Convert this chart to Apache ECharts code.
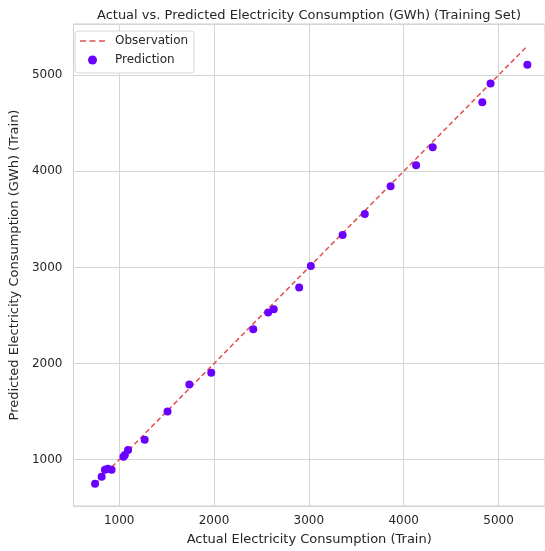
<!DOCTYPE html>
<html>
<head>
<meta charset="utf-8">
<script src="https://cdn.jsdelivr.net/npm/echarts@6/dist/echarts.min.js"></script>
<style>
  html, body { margin: 0; padding: 0; background: #fff; }
  #chart { width: 545px; height: 551px; }
</style>
</head>
<body>
<div id="chart"></div>
<script>
// actual vs predicted (GWh)
const actual    = [746, 815, 850, 880, 920, 1045, 1060, 1094, 1269, 1510, 1740, 1971, 2414, 2571, 2630, 2898, 3021, 3356, 3590, 3862, 4131, 4306, 4829, 4916, 5304]
const predicted = [750, 823, 895, 905, 895, 1030, 1049, 1100, 1208, 1500, 1781, 1903, 2357, 2531, 2564, 2792, 3014, 3336, 3555, 3844, 4063, 4250, 4719, 4914, 5107]
const lineEnds  = [746, 5304]
const axisMin = 518
const yMax = 5532
// the original plot runs a few px past the right edge of the image
const xMax = 5490

const textColor = '#262626'
const font = 'DejaVu Sans'
// dashed-line legend icon, 25x9 box (corner moveTo's keep the box size)
const dashIcon = 'path://M0,0 M0,3.75 L6,3.75 L6,5.25 L0,5.25 Z M9.5,3.75 L15.5,3.75 L15.5,5.25 L9.5,5.25 Z M19,3.75 L25,3.75 L25,5.25 L19,5.25 Z M25,9'

const chart = echarts.init(document.getElementById('chart'))

const points = actual.map((v, i) => [v, predicted[i]])

chart.setOption({
  animation: false,
  textStyle: { fontFamily: font },
  title: {
    text: 'Actual vs. Predicted Electricity Consumption (GWh) (Training Set)',
    left: 304,
    textAlign: 'center',
    top: 4,
    textStyle: { fontSize: 13, fontWeight: 'normal', color: textColor, fontFamily: font }
  },
  legend: {
    orient: 'vertical',
    left: 75,
    top: 31,
    padding: [3, 6, 6, 5],
    itemGap: 5,
    itemWidth: 25,
    itemHeight: 9,
    borderColor: '#d6d6d6',
    borderWidth: 1,
    borderRadius: 3,
    backgroundColor: '#fff',
    textStyle: { fontSize: 12, lineHeight: 14, color: textColor, fontFamily: font, padding: [0, 0, 0, 5] },
    data: [{ name: 'Observation', icon: dashIcon }, 'Prediction']
  },
  grid: { left: 69, top: 24, right: 0, height: 482, show: true, borderColor: '#cccccc', borderWidth: 1 },
  xAxis: {
    type: 'value',
    min: axisMin,
    max: xMax,
    splitNumber: 5,
    name: 'Actual Electricity Consumption (Train)',
    nameLocation: 'middle',
    nameGap: 27,
    nameTextStyle: { fontSize: 13, color: textColor, fontFamily: font },
    axisLine: { show: false },
    axisTick: { show: false },
    axisLabel: { fontSize: 12, color: textColor, margin: 9, showMinLabel: false, showMaxLabel: false, fontFamily: font, formatter: v => String(v) },
    splitLine: { lineStyle: { color: '#d4d4d4', width: 1 } }
  },
  yAxis: {
    type: 'value',
    min: axisMin,
    max: yMax,
    splitNumber: 5,
    name: 'Predicted Electricity Consumption (GWh) (Train)',
    nameLocation: 'middle',
    nameGap: 44,
    nameTextStyle: { fontSize: 13, color: textColor, fontFamily: font },
    axisLine: { show: false },
    axisTick: { show: false },
    axisLabel: { fontSize: 12, color: textColor, margin: 11, showMinLabel: false, showMaxLabel: false, fontFamily: font, formatter: v => String(v) },
    splitLine: { lineStyle: { color: '#d4d4d4', width: 1 } }
  },
  series: [
    {
      name: 'Observation',
      type: 'line',
      data: lineEnds.map(v => [v, v]),
      symbol: 'none',
      z: 3,
      itemStyle: { color: '#e0504f' },
      lineStyle: { color: '#e0504f', width: 1.5, type: [5, 3] }
    },
    {
      name: 'Prediction',
      type: 'scatter',
      data: points,
      symbolSize: 8,
      z: 4,
      itemStyle: { color: '#6a00ff', opacity: 1 }
    }
  ]
})
</script>
</body>
</html>
